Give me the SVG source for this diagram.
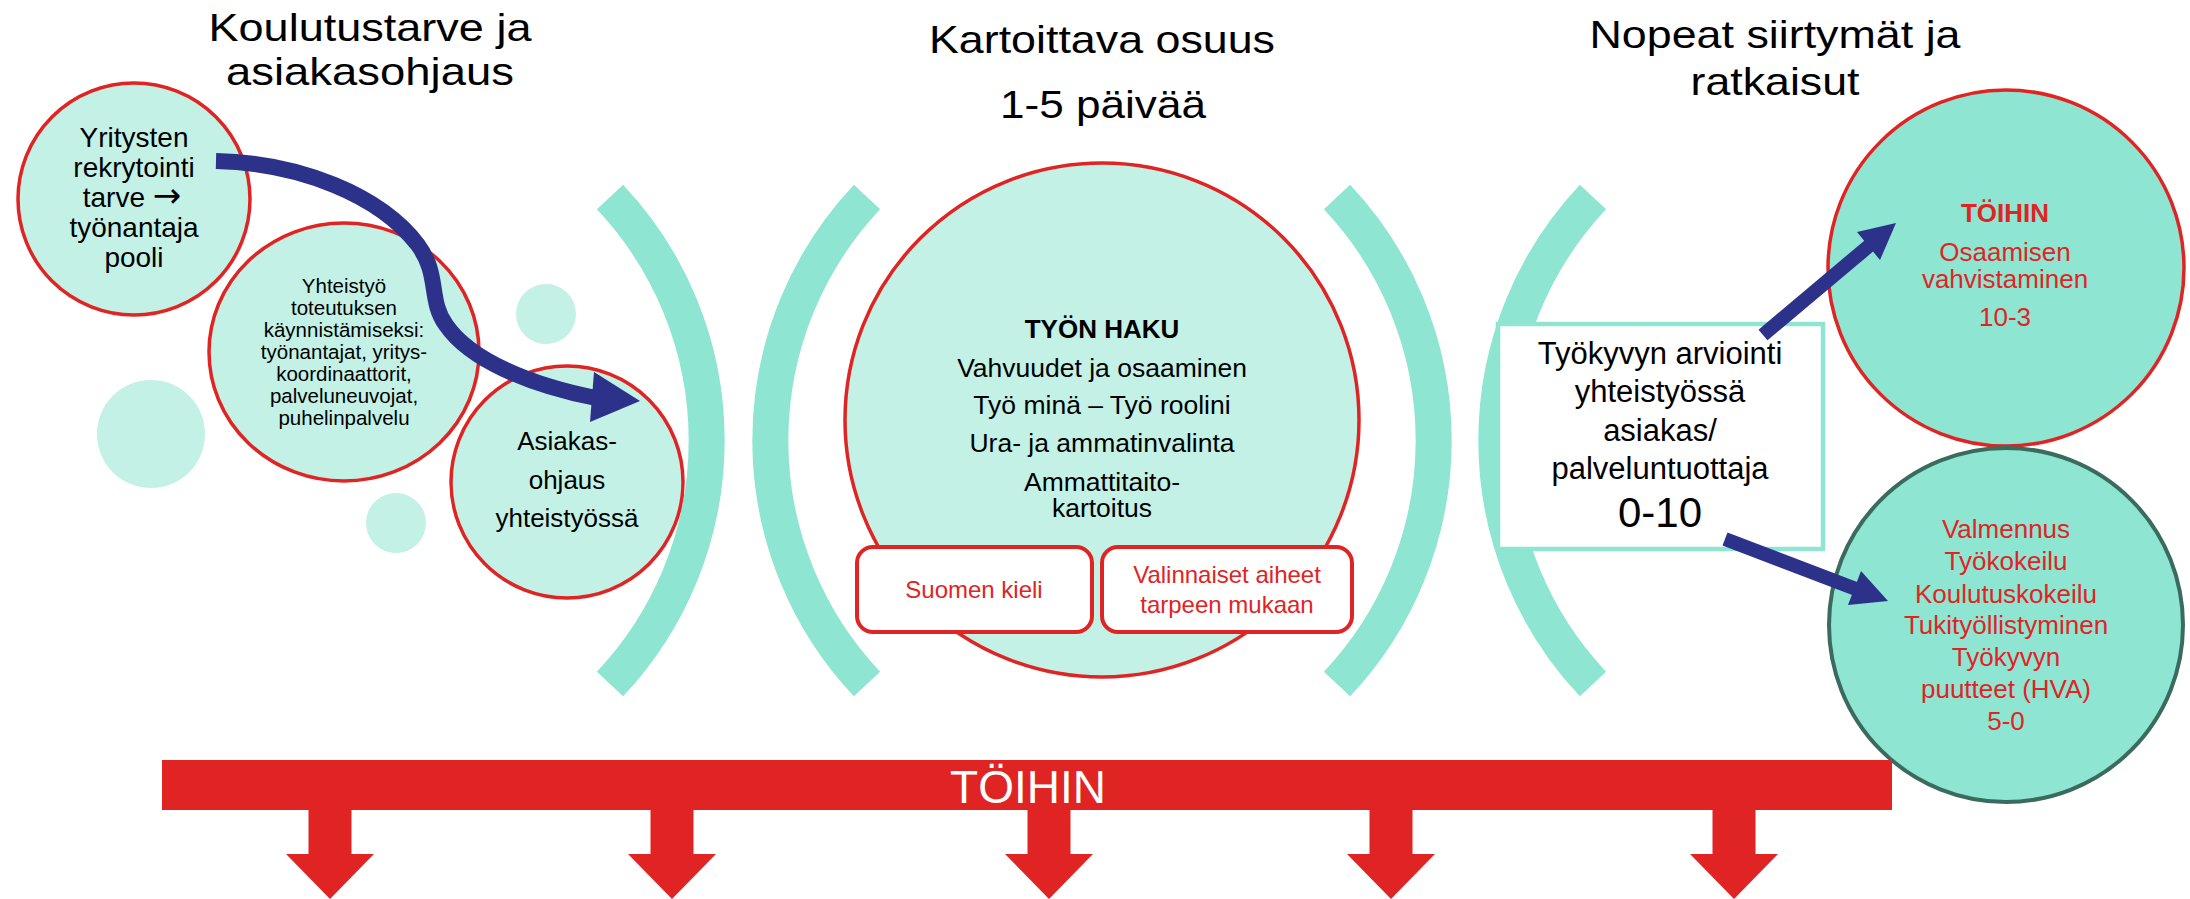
<svg xmlns="http://www.w3.org/2000/svg" width="2190" height="899" viewBox="0 0 2190 899">
<style>
text{font-family:"Liberation Sans",Arial,sans-serif;text-anchor:middle;fill:#000}
.h{font-size:39px}
.pale{fill:#C3F1E6}
.node{fill:#C3F1E6;stroke:#E02424;stroke-width:3.5}
.bright{fill:#8DE5D2}
.br{fill:none;stroke:#8DE5D2;stroke-width:36}
.red{fill:#E02424}
.navy{fill:#2C3189}
.band{fill:none;stroke:#2C3189;stroke-width:16}
.shaft{stroke:#2C3189;stroke-width:14}
.box{fill:#fff;stroke:#E02424;stroke-width:4}
.r{fill:#E02424}
.arr{font-family:"DejaVu Sans",sans-serif;font-size:34px}
</style>
<rect width="2190" height="899" fill="#fff"/>

<g id="headings">
<text class="h" x="370" y="41" textLength="323" lengthAdjust="spacingAndGlyphs">Koulutustarve ja</text>
<text class="h" x="370" y="85" textLength="288" lengthAdjust="spacingAndGlyphs">asiakasohjaus</text>
<text class="h" x="1102" y="53" textLength="346" lengthAdjust="spacingAndGlyphs">Kartoittava osuus</text>
<text class="h" x="1103" y="118" textLength="206" lengthAdjust="spacingAndGlyphs">1-5 päivää</text>
<text class="h" x="1775" y="48" textLength="371" lengthAdjust="spacingAndGlyphs">Nopeat siirtymät ja</text>
<text class="h" x="1775" y="95" textLength="169" lengthAdjust="spacingAndGlyphs">ratkaisut</text>
</g>

<g id="brackets">
<path class="br" d="M610,197 A355,355 0 0 1 610,684"/>
<path class="br" d="M867,197 A355,355 0 0 0 867,684"/>
<path class="br" d="M1337,197 A355,355 0 0 1 1337,684"/>
<path class="br" d="M1593,197 A355,355 0 0 0 1593,684"/>
</g>

<g id="decor">
<circle class="pale" cx="151" cy="434" r="54"/>
<circle class="pale" cx="396" cy="523" r="30"/>
<circle class="pale" cx="546" cy="314" r="30"/>
</g>

<g id="node-yritysten">
<ellipse class="node" cx="134" cy="199" rx="116" ry="116"/>
<text x="134" y="147" font-size="28">Yritysten</text>
<text x="134" y="177" font-size="28">rekrytointi</text>
<text x="132" y="207" font-size="28">tarve <tspan class="arr">→</tspan></text>
<text x="134" y="237" font-size="28">työnantaja</text>
<text x="134" y="267" font-size="28">pooli</text>
</g>

<g id="node-yhteistyo">
<ellipse class="node" cx="344" cy="352" rx="135" ry="129"/>
<g font-size="20.5">
<text x="344" y="293">Yhteistyö</text>
<text x="344" y="315">toteutuksen</text>
<text x="344" y="337">käynnistämiseksi:</text>
<text x="344" y="359">työnantajat, yritys-</text>
<text x="344" y="381">koordinaattorit,</text>
<text x="344" y="403">palveluneuvojat,</text>
<text x="344" y="425">puhelinpalvelu</text>
</g>
</g>

<g id="node-asiakasohjaus">
<ellipse class="node" cx="567" cy="482" rx="116" ry="116"/>
<text x="567" y="450" font-size="26">Asiakas-</text>
<text x="567" y="489" font-size="26">ohjaus</text>
<text x="567" y="527" font-size="26">yhteistyössä</text>
</g>

<g id="node-tyonhaku">
<circle class="node" cx="1102" cy="420" r="257"/>
<text x="1102" y="338" font-size="26" font-weight="bold">TYÖN HAKU</text>
<g font-size="26.5">
<text x="1102" y="377">Vahvuudet ja osaaminen</text>
<text x="1102" y="414">Työ minä – Työ roolini</text>
<text x="1102" y="452">Ura- ja ammatinvalinta</text>
<text x="1102" y="491">Ammattitaito-</text>
<text x="1102" y="517">kartoitus</text>
</g>
</g>

<g id="node-suomen-kieli">
<rect class="box" x="857" y="547" width="235" height="85" rx="16"/>
<text class="r" x="974" y="598" font-size="24">Suomen kieli</text>
</g>

<g id="node-valinnaiset">
<rect class="box" x="1102" y="547" width="250" height="85" rx="16"/>
<text class="r" x="1227" y="583" font-size="24">Valinnaiset aiheet</text>
<text class="r" x="1227" y="613" font-size="24">tarpeen mukaan</text>
</g>

<g id="node-tyokyky">
<rect x="1498" y="324" width="325" height="225" fill="#fff" stroke="#8DE5D2" stroke-width="4.5"/>
<g font-size="31">
<text x="1660" y="364">Työkyvyn arviointi</text>
<text x="1660" y="402">yhteistyössä</text>
<text x="1660" y="441">asiakas/</text>
<text x="1660" y="479">palveluntuottaja</text>
</g>
<text x="1660" y="527" font-size="42">0-10</text>
</g>

<g id="node-toihin">
<circle class="bright" cx="2006" cy="268" r="178" stroke="#E02424" stroke-width="3.5"/>
<text class="r" x="2005" y="222" font-size="26" font-weight="bold">TÖIHIN</text>
<text class="r" x="2005" y="261" font-size="26">Osaamisen</text>
<text class="r" x="2005" y="288" font-size="26">vahvistaminen</text>
<text class="r" x="2005" y="326" font-size="26">10-3</text>
</g>

<g id="node-valmennus">
<circle class="bright" cx="2006" cy="625" r="177" stroke="#3B6B5E" stroke-width="4"/>
<g font-size="26">
<text class="r" x="2006" y="538">Valmennus</text>
<text class="r" x="2006" y="570">Työkokeilu</text>
<text class="r" x="2006" y="603">Koulutuskokeilu</text>
<text class="r" x="2006" y="634">Tukityöllistyminen</text>
<text class="r" x="2006" y="666">Työkyvyn</text>
<text class="r" x="2006" y="698">puutteet (HVA)</text>
<text class="r" x="2006" y="730">5-0</text>
</g>
</g>

<g id="node-toihin-bar">
<rect class="red" x="162" y="760" width="1730" height="50"/>
<text x="1028" y="803" font-size="46" style="fill:#fff">TÖIHIN</text>
</g>

<g id="connectors">
<path class="band" d="M216,161 C300,163 380,195 418,245 C440,275 428,300 446,325 C470,360 530,385 596,398"/>
<polygon class="navy" points="594,372 640,401 590,422"/>
<line class="shaft" x1="1763" y1="335" x2="1870" y2="245"/>
<polygon class="navy" points="1896,223 1880,260 1857,232"/>
<line class="shaft" x1="1725" y1="539" x2="1856" y2="589"/>
<polygon class="navy" points="1888,601 1848,605 1861,571"/>
<g class="red">
<rect x="308.5" y="808" width="43" height="47"/><polygon points="286,854 374,854 330,899"/>
<rect x="650.5" y="808" width="43" height="47"/><polygon points="628,854 716,854 672,899"/>
<rect x="1027.5" y="808" width="43" height="47"/><polygon points="1005,854 1093,854 1049,899"/>
<rect x="1369.5" y="808" width="43" height="47"/><polygon points="1347,854 1435,854 1391,899"/>
<rect x="1712.5" y="808" width="43" height="47"/><polygon points="1690,854 1778,854 1734,899"/>
</g>
</g>
</svg>
